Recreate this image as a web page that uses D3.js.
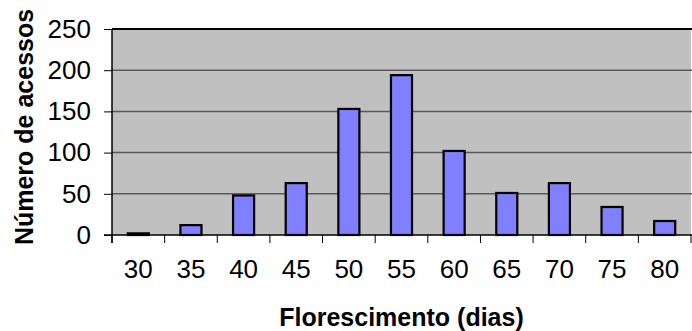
<!DOCTYPE html>
<html>
<head>
<meta charset="utf-8">
<script src="https://cdn.jsdelivr.net/npm/d3@7"></script>
<style>
  html, body { margin: 0; padding: 0; background: #fff; }
  svg { display: block; }
  text { font-family: "Liberation Sans", Arial, sans-serif; fill: #000; }
</style>
</head>
<body>
<script>
const categories = ["30", "35", "40", "45", "50", "55", "60", "65", "70", "75", "80"];
const values = [2, 12, 48, 63, 153, 194, 102, 51, 63, 34, 17];
const yTicks = [0, 50, 100, 150, 200, 250];
const xTitle = "Florescimento (dias)";
const yTitle = "Número de acessos";

const W = 692, H = 331;
const margin = { left: 112, right: 1, top: 29, bottom: 96 };
const svg = d3.select("body").append("svg").attr("width", W).attr("height", H);

const x = d3.scaleBand().domain(categories).range([margin.left, W - margin.right]).padding(0);
const y = d3.scaleLinear().domain([0, 250]).range([H - margin.bottom, margin.top]);

// plot background
svg.append("rect")
  .attr("x", margin.left).attr("y", margin.top)
  .attr("width", W - margin.right - margin.left)
  .attr("height", y(0) - margin.top)
  .attr("fill", "#c0c0c0");

// gridlines
svg.append("g").selectAll("line").data(yTicks.filter(d => d > 0 && d < 250)).join("line")
  .attr("x1", margin.left).attr("x2", W)
  .attr("y1", d => y(d)).attr("y2", d => y(d))
  .attr("stroke", "#5a5a5a").attr("stroke-width", 1.5);

// top border
svg.append("line")
  .attr("x1", margin.left).attr("x2", W)
  .attr("y1", y(250)).attr("y2", y(250))
  .attr("stroke", "#000").attr("stroke-width", 2);

// bars
const bw = x.bandwidth() * 0.4;
svg.append("g").selectAll("rect").data(values).join("rect")
  .attr("x", (d, i) => x(categories[i]) + (x.bandwidth() - bw) / 2)
  .attr("y", d => y(d))
  .attr("width", bw)
  .attr("height", d => y(0) - y(d))
  .attr("fill", "#8080ff")
  .attr("stroke", "#000")
  .attr("stroke-width", 2.2);

// y axis
const yAxis = d3.axisLeft(y).tickValues(yTicks).tickSize(8).tickPadding(13);
const gy = svg.append("g").attr("transform", `translate(${margin.left},0)`).call(yAxis);
gy.select(".domain").remove();
gy.selectAll(".tick line").attr("stroke", "#000").attr("stroke-width", 1);
gy.selectAll("text").attr("font-size", 26).style("font-family", "'Liberation Sans', Arial, sans-serif").attr("fill", "#000");

svg.append("line")
  .attr("x1", margin.left).attr("x2", margin.left)
  .attr("y1", margin.top).attr("y2", y(0) + 8)
  .attr("stroke", "#000").attr("stroke-width", 1.5);

// x axis
svg.append("line")
  .attr("x1", margin.left - 8).attr("x2", W)
  .attr("y1", y(0)).attr("y2", y(0))
  .attr("stroke", "#000").attr("stroke-width", 1.5);

const edges = categories.map(c => x(c)).concat([x.range()[1]]);
svg.append("g").selectAll("line").data(edges).join("line")
  .attr("x1", d => d).attr("x2", d => d)
  .attr("y1", y(0)).attr("y2", y(0) + 8)
  .attr("stroke", "#000").attr("stroke-width", 1);

svg.append("g").selectAll("text").data(categories).join("text")
  .attr("x", d => x(d) + x.bandwidth() / 2)
  .attr("y", 278)
  .attr("text-anchor", "middle")
  .attr("font-size", 26)
  .text(d => d);

// titles
svg.append("text")
  .attr("x", (margin.left + W - margin.right) / 2)
  .attr("y", 326)
  .attr("text-anchor", "middle")
  .attr("font-size", 25)
  .attr("font-weight", "bold")
  .text(xTitle);

svg.append("text")
  .attr("transform", `translate(33,${(margin.top + y(0)) / 2 - 5}) rotate(-90)`)
  .attr("text-anchor", "middle")
  .attr("font-size", 25)
  .attr("font-weight", "bold")
  .text(yTitle);
</script>
</body>
</html>
